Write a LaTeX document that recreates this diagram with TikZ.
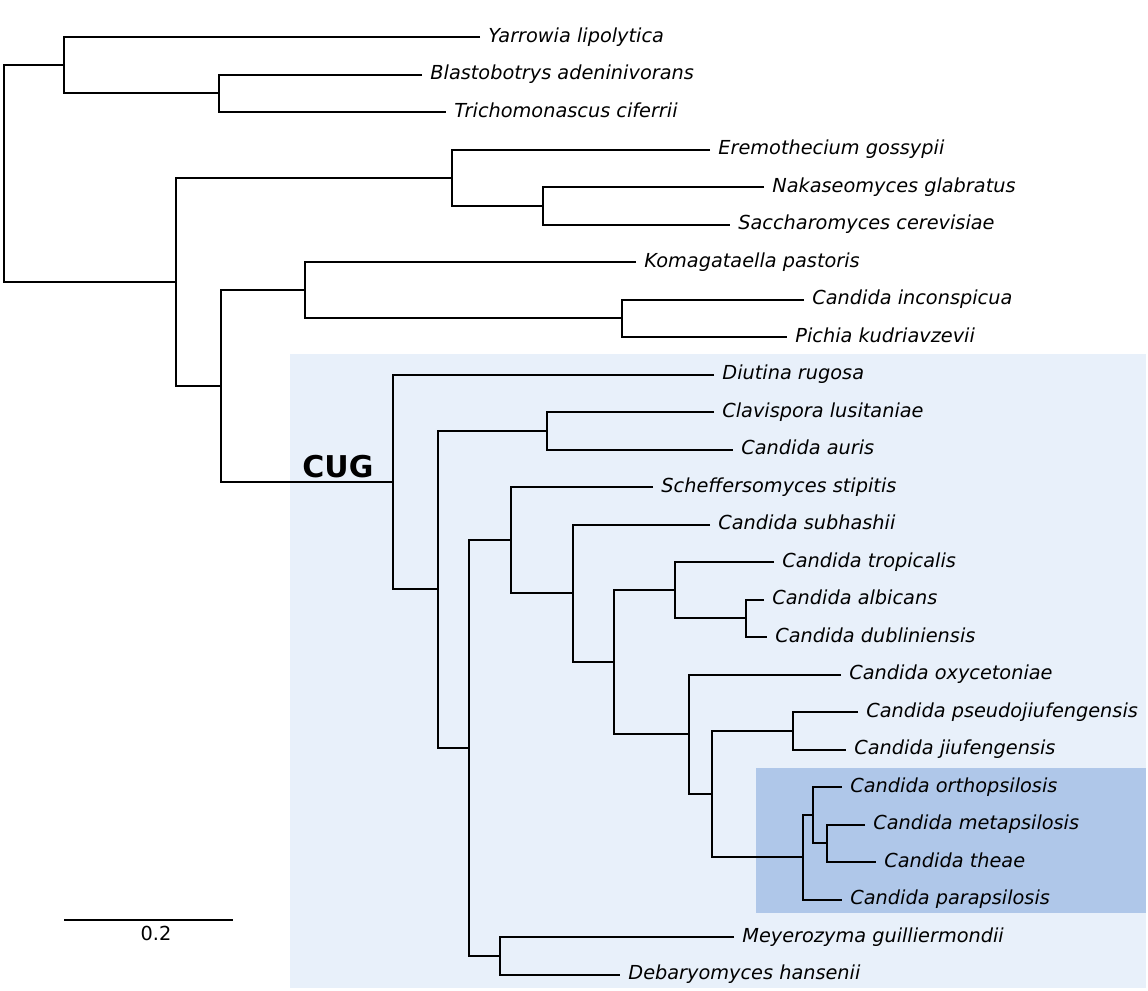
\documentclass[tikz,border=0pt]{standalone}
\usepackage{fontspec}
\setmainfont{DejaVu Sans}
\definecolor{cugblue}{RGB}{232,240,250}
\definecolor{psiloblue}{RGB}{175,199,233}
\begin{document}
\begin{tikzpicture}[x=0.5pt, y=-0.5pt,
		leaf/.style={anchor=west, inner xsep=4pt, inner ysep=0pt, text height=.8em, text depth=.26em, font=\fontsize{9.65}{11}\selectfont\itshape},
		branch/.style={line width=1pt, black}]
	\useasboundingbox (0,0) rectangle (1148,991);
	% shaded clades
	\fill[cugblue] (290,354) rectangle (1146,988);
	\fill[psiloblue] (756,768) rectangle (1146,913);
	% leaves
	\node[leaf] (yli) at (480,37) {Yarrowia lipolytica};
	\node[leaf] (bad) at (422,74.5) {Blastobotrys adeninivorans};
	\node[leaf] (tci) at (446,112) {Trichomonascus ciferrii};
	\node[leaf] (ego) at (710,149.5) {Eremothecium gossypii};
	\node[leaf] (ngl) at (764,187) {Nakaseomyces glabratus};
	\node[leaf] (sce) at (730,224.5) {Saccharomyces cerevisiae};
	\node[leaf] (kpa) at (636,262) {Komagataella pastoris};
	\node[leaf] (cin) at (804,299.5) {Candida inconspicua};
	\node[leaf] (pku) at (787,337) {Pichia kudriavzevii};
	\node[leaf] (dru) at (714,374.5) {Diutina rugosa};
	\node[leaf] (clu) at (714,412) {Clavispora lusitaniae};
	\node[leaf] (cau) at (733,449.5) {Candida auris};
	\node[leaf] (sst) at (653,487) {Scheffersomyces stipitis};
	\node[leaf] (csu) at (710,524.5) {Candida subhashii};
	\node[leaf] (ctr) at (774,562) {Candida tropicalis};
	\node[leaf] (cal) at (764,599.5) {Candida albicans};
	\node[leaf] (cdu) at (767,637) {Candida dubliniensis};
	\node[leaf] (cox) at (841,674.5) {Candida oxycetoniae};
	\node[leaf] (cps) at (858,712) {Candida pseudojiufengensis};
	\node[leaf] (cji) at (846,749.5) {Candida jiufengensis};
	\node[leaf] (cor) at (842,787) {Candida orthopsilosis};
	\node[leaf] (cme) at (865,824.5) {Candida metapsilosis};
	\node[leaf] (cth) at (876,862) {Candida theae};
	\node[leaf] (cpa) at (842,899.5) {Candida parapsilosis};
	\node[leaf] (mgu) at (734,937) {Meyerozyma guilliermondii};
	\node[leaf] (dha) at (620,974.5) {Debaryomyces hansenii};
	% inner nodes
	\coordinate (root) at (4,173.5);
	\coordinate (ybt) at (64,65.1);
	\coordinate (bt) at (219,93.25);
	\coordinate (rest) at (176,281.8);
	\coordinate (sacc) at (452,177.6);
	\coordinate (ns) at (543,205.75);
	\coordinate (n3) at (221,386);
	\coordinate (pk) at (305,290.1);
	\coordinate (cp) at (622,318.25);
	\coordinate (cug) at (393,482);
	\coordinate (n7) at (438,589.4);
	\coordinate (cc) at (547,430.75);
	\coordinate (n9) at (469,748);
	\coordinate (md) at (500,955.75);
	\coordinate (n10) at (511,540.2);
	\coordinate (n12) at (573,593.3);
	\coordinate (n13) at (614,662.2);
	\coordinate (n14) at (675,590.1);
	\coordinate (n16) at (746,618.25);
	\coordinate (n15) at (689,734.3);
	\coordinate (n17) at (712,794);
	\coordinate (n18) at (793,730.75);
	\coordinate (n19) at (803,857.3);
	\coordinate (n20) at (813,815.1);
	\coordinate (n21) at (827,843.25);
	% branches
	\draw[branch] (ybt) -| (root) |- (rest);
	\draw[branch] (yli.west) -| (ybt) |- (bt);
	\draw[branch] (bad.west) -| (bt) |- (tci.west);
	\draw[branch] (sacc) -| (rest) |- (n3);
	\draw[branch] (ego.west) -| (sacc) |- (ns);
	\draw[branch] (ngl.west) -| (ns) |- (sce.west);
	\draw[branch] (pk) -| (n3) |- (cug);
	\draw[branch] (kpa.west) -| (pk) |- (cp);
	\draw[branch] (cin.west) -| (cp) |- (pku.west);
	\draw[branch] (dru.west) -| (cug) |- (n7);
	\draw[branch] (cc) -| (n7) |- (n9);
	\draw[branch] (clu.west) -| (cc) |- (cau.west);
	\draw[branch] (n10) -| (n9) |- (md);
	\draw[branch] (mgu.west) -| (md) |- (dha.west);
	\draw[branch] (sst.west) -| (n10) |- (n12);
	\draw[branch] (csu.west) -| (n12) |- (n13);
	\draw[branch] (n14) -| (n13) |- (n15);
	\draw[branch] (ctr.west) -| (n14) |- (n16);
	\draw[branch] (cal.west) -| (n16) |- (cdu.west);
	\draw[branch] (cox.west) -| (n15) |- (n17);
	\draw[branch] (n18) -| (n17) |- (n19);
	\draw[branch] (cps.west) -| (n18) |- (cji.west);
	\draw[branch] (n20) -| (n19) |- (cpa.west);
	\draw[branch] (cor.west) -| (n20) |- (n21);
	\draw[branch] (cme.west) -| (n21) |- (cth.west);
	% clade label
	\node[anchor=base west, inner sep=0pt, font=\fontsize{15}{18}\selectfont\bfseries] (cuglabel) at (302,477) {CUG};
	% scale bar
	\coordinate (sb0) at (64,920);
	\coordinate (sb1) at (233,920);
	\draw[branch] (sb0) -- (sb1);
	\node[anchor=base, inner sep=0pt, font=\fontsize{9.65}{11}\selectfont] (sblabel) at (156,940) {0.2};
\end{tikzpicture}
\end{document}
